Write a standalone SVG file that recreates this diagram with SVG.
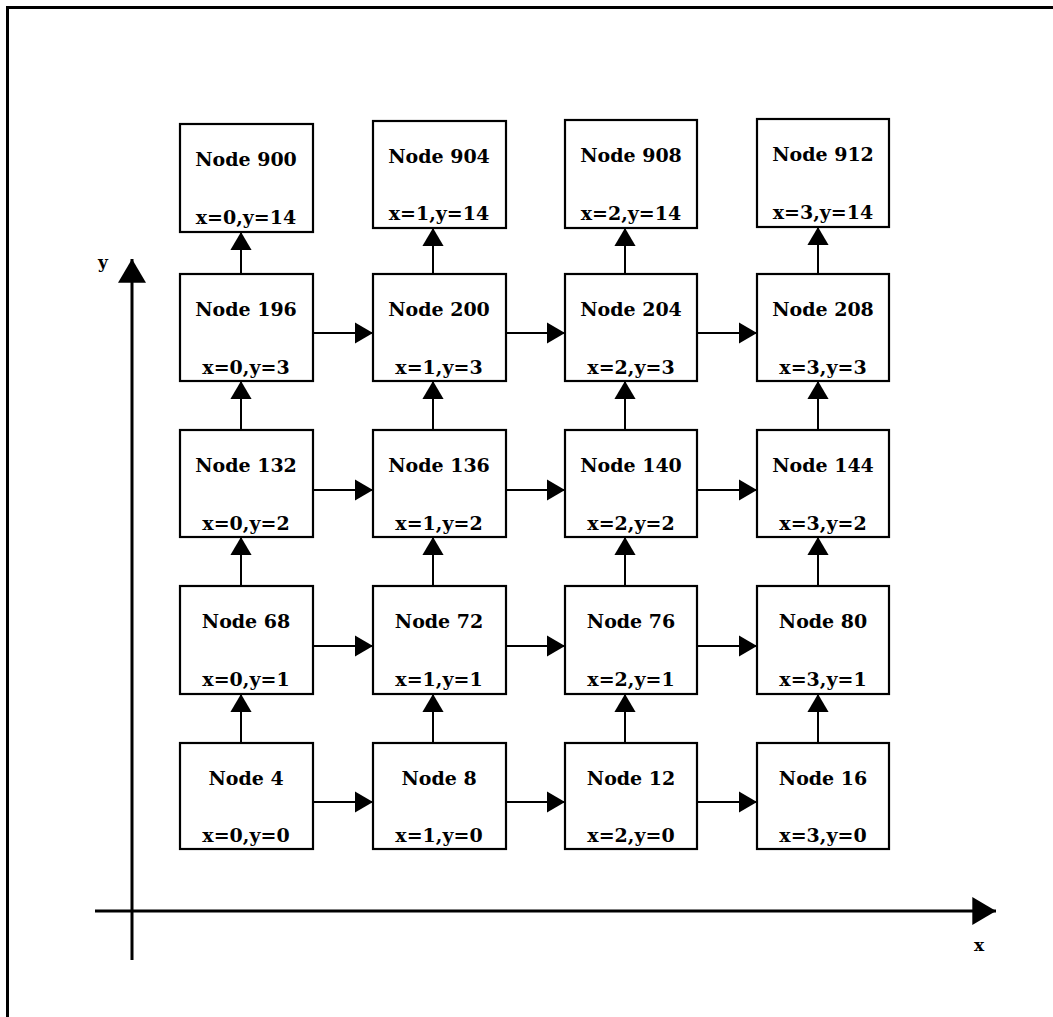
<svg xmlns="http://www.w3.org/2000/svg" width="1053" height="1017" viewBox="0 0 1053 1017">
<style>
.box{fill:#fff;stroke:#000;stroke-width:2.2}
.t{font-family:"DejaVu Serif","Liberation Serif",serif;font-weight:bold;font-size:19px;text-anchor:middle;fill:#000}
.c{fill:none;stroke:#000;stroke-width:2}
.ax{fill:none;stroke:#000;stroke-width:3}
</style>
<defs>
<marker id="ah" markerUnits="userSpaceOnUse" markerWidth="18" markerHeight="22" refX="17" refY="10" orient="auto" viewBox="0 0 17 20">
<path d="M0,0 L17,10 L0,20 z" fill="#000"/>
</marker>
<marker id="axh" markerUnits="userSpaceOnUse" markerWidth="24" markerHeight="28" refX="22" refY="13" orient="auto" viewBox="0 0 22 26">
<path d="M0,0 L22,13 L0,26 z" fill="#000"/>
</marker>
</defs>
<rect x="7.5" y="7.5" width="1100" height="1100" fill="none" stroke="#000" stroke-width="3"/>
<g id="axes">
<line class="ax" x1="132" y1="960" x2="132" y2="259" marker-end="url(#axh)"/>
<line class="ax" x1="95" y1="911" x2="996" y2="911" marker-end="url(#axh)"/>
<text class="t" x="103" y="268" style="font-size:17px">y</text>
<text class="t" x="979" y="951" style="font-size:17px">x</text>
</g>
<g id="connectors">
<line class="c" x1="313" y1="802" x2="373" y2="802" marker-end="url(#ah)"/>
<line class="c" x1="506" y1="802" x2="565" y2="802" marker-end="url(#ah)"/>
<line class="c" x1="697" y1="802" x2="757" y2="802" marker-end="url(#ah)"/>
<line class="c" x1="313" y1="646" x2="373" y2="646" marker-end="url(#ah)"/>
<line class="c" x1="506" y1="646" x2="565" y2="646" marker-end="url(#ah)"/>
<line class="c" x1="697" y1="646" x2="757" y2="646" marker-end="url(#ah)"/>
<line class="c" x1="313" y1="490" x2="373" y2="490" marker-end="url(#ah)"/>
<line class="c" x1="506" y1="490" x2="565" y2="490" marker-end="url(#ah)"/>
<line class="c" x1="697" y1="490" x2="757" y2="490" marker-end="url(#ah)"/>
<line class="c" x1="313" y1="333" x2="373" y2="333" marker-end="url(#ah)"/>
<line class="c" x1="506" y1="333" x2="565" y2="333" marker-end="url(#ah)"/>
<line class="c" x1="697" y1="333" x2="757" y2="333" marker-end="url(#ah)"/>
<line class="c" x1="241" y1="743" x2="241" y2="694" marker-end="url(#ah)"/>
<line class="c" x1="433" y1="743" x2="433" y2="694" marker-end="url(#ah)"/>
<line class="c" x1="625" y1="743" x2="625" y2="694" marker-end="url(#ah)"/>
<line class="c" x1="818" y1="743" x2="818" y2="694" marker-end="url(#ah)"/>
<line class="c" x1="241" y1="586" x2="241" y2="537" marker-end="url(#ah)"/>
<line class="c" x1="433" y1="586" x2="433" y2="537" marker-end="url(#ah)"/>
<line class="c" x1="625" y1="586" x2="625" y2="537" marker-end="url(#ah)"/>
<line class="c" x1="818" y1="586" x2="818" y2="537" marker-end="url(#ah)"/>
<line class="c" x1="241" y1="430" x2="241" y2="381" marker-end="url(#ah)"/>
<line class="c" x1="433" y1="430" x2="433" y2="381" marker-end="url(#ah)"/>
<line class="c" x1="625" y1="430" x2="625" y2="381" marker-end="url(#ah)"/>
<line class="c" x1="818" y1="430" x2="818" y2="381" marker-end="url(#ah)"/>
<line class="c" x1="241" y1="274" x2="241" y2="232" marker-end="url(#ah)"/>
<line class="c" x1="433" y1="274" x2="433" y2="228" marker-end="url(#ah)"/>
<line class="c" x1="625" y1="274" x2="625" y2="228" marker-end="url(#ah)"/>
<line class="c" x1="818" y1="274" x2="818" y2="227" marker-end="url(#ah)"/>
</g>
<g id="n900"><rect class="box" x="180" y="124" width="133" height="108"/><text class="t" x="246" y="166">Node 900</text><text class="t" x="246" y="224">x=0,y=14</text></g>
<g id="n904"><rect class="box" x="373" y="121" width="133" height="107"/><text class="t" x="439" y="163">Node 904</text><text class="t" x="439" y="220">x=1,y=14</text></g>
<g id="n908"><rect class="box" x="565" y="120" width="132" height="108"/><text class="t" x="631" y="162">Node 908</text><text class="t" x="631" y="220">x=2,y=14</text></g>
<g id="n912"><rect class="box" x="757" y="119" width="132" height="108"/><text class="t" x="823" y="161">Node 912</text><text class="t" x="823" y="219">x=3,y=14</text></g>
<g id="n196"><rect class="box" x="180" y="274" width="133" height="107"/><text class="t" x="246" y="316">Node 196</text><text class="t" x="246" y="374">x=0,y=3</text></g>
<g id="n200"><rect class="box" x="373" y="274" width="133" height="107"/><text class="t" x="439" y="316">Node 200</text><text class="t" x="439" y="374">x=1,y=3</text></g>
<g id="n204"><rect class="box" x="565" y="274" width="132" height="107"/><text class="t" x="631" y="316">Node 204</text><text class="t" x="631" y="374">x=2,y=3</text></g>
<g id="n208"><rect class="box" x="757" y="274" width="132" height="107"/><text class="t" x="823" y="316">Node 208</text><text class="t" x="823" y="374">x=3,y=3</text></g>
<g id="n132"><rect class="box" x="180" y="430" width="133" height="107"/><text class="t" x="246" y="472">Node 132</text><text class="t" x="246" y="530">x=0,y=2</text></g>
<g id="n136"><rect class="box" x="373" y="430" width="133" height="107"/><text class="t" x="439" y="472">Node 136</text><text class="t" x="439" y="530">x=1,y=2</text></g>
<g id="n140"><rect class="box" x="565" y="430" width="132" height="107"/><text class="t" x="631" y="472">Node 140</text><text class="t" x="631" y="530">x=2,y=2</text></g>
<g id="n144"><rect class="box" x="757" y="430" width="132" height="107"/><text class="t" x="823" y="472">Node 144</text><text class="t" x="823" y="530">x=3,y=2</text></g>
<g id="n68"><rect class="box" x="180" y="586" width="133" height="108"/><text class="t" x="246" y="628">Node 68</text><text class="t" x="246" y="686">x=0,y=1</text></g>
<g id="n72"><rect class="box" x="373" y="586" width="133" height="108"/><text class="t" x="439" y="628">Node 72</text><text class="t" x="439" y="686">x=1,y=1</text></g>
<g id="n76"><rect class="box" x="565" y="586" width="132" height="108"/><text class="t" x="631" y="628">Node 76</text><text class="t" x="631" y="686">x=2,y=1</text></g>
<g id="n80"><rect class="box" x="757" y="586" width="132" height="108"/><text class="t" x="823" y="628">Node 80</text><text class="t" x="823" y="686">x=3,y=1</text></g>
<g id="n4"><rect class="box" x="180" y="743" width="133" height="106"/><text class="t" x="246" y="785">Node 4</text><text class="t" x="246" y="842">x=0,y=0</text></g>
<g id="n8"><rect class="box" x="373" y="743" width="133" height="106"/><text class="t" x="439" y="785">Node 8</text><text class="t" x="439" y="842">x=1,y=0</text></g>
<g id="n12"><rect class="box" x="565" y="743" width="132" height="106"/><text class="t" x="631" y="785">Node 12</text><text class="t" x="631" y="842">x=2,y=0</text></g>
<g id="n16"><rect class="box" x="757" y="743" width="132" height="106"/><text class="t" x="823" y="785">Node 16</text><text class="t" x="823" y="842">x=3,y=0</text></g>
</svg>
